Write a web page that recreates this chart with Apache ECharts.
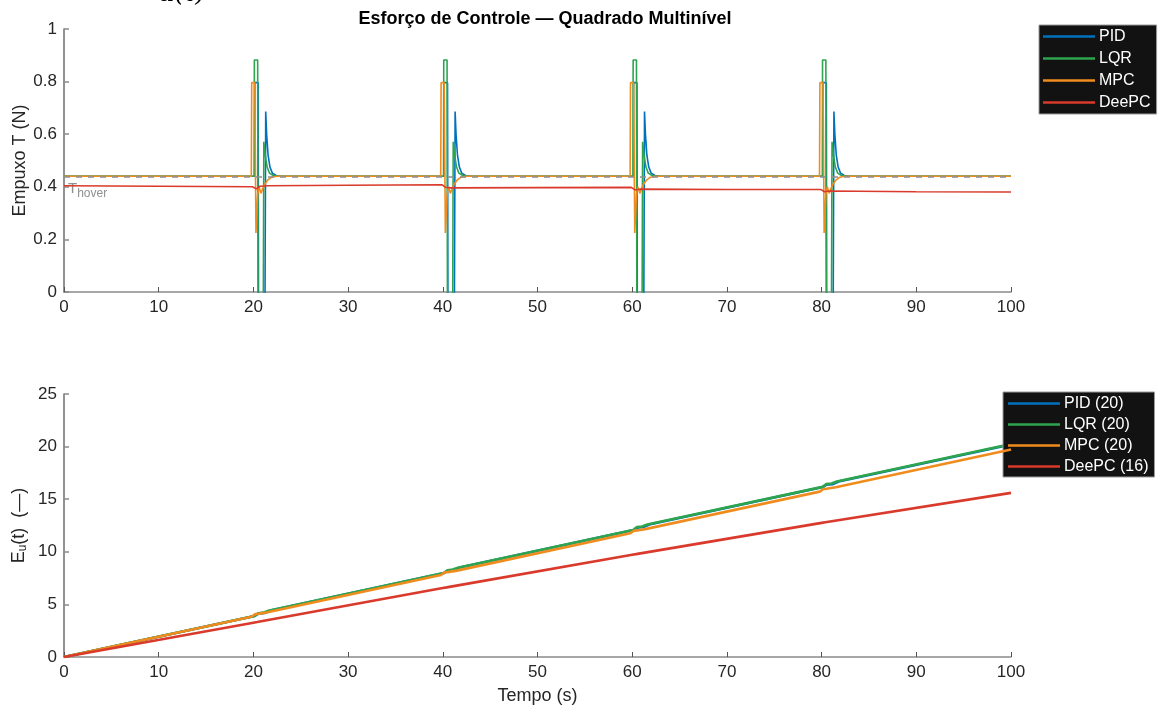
<!DOCTYPE html>
<html>
<head>
<meta charset="utf-8">
<script src="https://cdn.jsdelivr.net/npm/echarts@6/dist/echarts.min.js"></script>
<style>
  html, body { margin: 0; padding: 0; background: #fff; }
  #chart { width: 1161px; height: 707px; }
</style>
</head>
<body>
<div id="chart"></div>
<script>
// Thrust commands T(t) [N] for each controller, as [time, value] pairs
const thrustPID = [
  [0, 0.44], [20.13, 0.44], [20.15, 0.796], [20.5, 0.796], [20.55, -0.3], [21.2, -0.3], [21.3, 0.686], [21.4, 0.6], [21.55, 0.52], [21.75, 0.475], [22.0, 0.452], [22.4, 0.443], [23, 0.44],
  [40.13, 0.44], [40.15, 0.796], [40.5, 0.796], [40.55, -0.3], [41.2, -0.3], [41.3, 0.686], [41.4, 0.6], [41.55, 0.52], [41.75, 0.475], [42.0, 0.452], [42.4, 0.443], [43, 0.44],
  [60.13, 0.44], [60.15, 0.796], [60.5, 0.796], [60.55, -0.3], [61.2, -0.3], [61.3, 0.686], [61.4, 0.6], [61.55, 0.52], [61.75, 0.475], [62.0, 0.452], [62.4, 0.443], [63, 0.44],
  [80.13, 0.44], [80.15, 0.796], [80.5, 0.796], [80.55, -0.3], [81.2, -0.3], [81.3, 0.686], [81.4, 0.6], [81.55, 0.52], [81.75, 0.475], [82.0, 0.452], [82.4, 0.443], [83, 0.44],
  [100, 0.44]
];
const thrustLQR = [
  [0, 0.44], [20.08, 0.44], [20.1, 0.882], [20.45, 0.882], [20.5, -0.3], [21.02, -0.3], [21.1, 0.571], [21.25, 0.52], [21.45, 0.475], [21.7, 0.452], [22.1, 0.443], [22.6, 0.44],
  [40.08, 0.44], [40.1, 0.882], [40.45, 0.882], [40.5, -0.3], [41.02, -0.3], [41.1, 0.571], [41.25, 0.52], [41.45, 0.475], [41.7, 0.452], [42.1, 0.443], [42.6, 0.44],
  [60.08, 0.44], [60.1, 0.882], [60.45, 0.882], [60.5, -0.3], [61.02, -0.3], [61.1, 0.571], [61.25, 0.52], [61.45, 0.475], [61.7, 0.452], [62.1, 0.443], [62.6, 0.44],
  [80.08, 0.44], [80.1, 0.882], [80.45, 0.882], [80.5, -0.3], [81.02, -0.3], [81.1, 0.571], [81.25, 0.52], [81.45, 0.475], [81.7, 0.452], [82.1, 0.443], [82.6, 0.44],
  [100, 0.44]
];
const thrustMPC = [
  [0, 0.44], [19.78, 0.44], [19.82, 0.796], [20.15, 0.796], [20.27, 0.224], [20.45, 0.37], [20.6, 0.40], [20.8, 0.375], [21.0, 0.395], [21.2, 0.41], [21.5, 0.425], [21.9, 0.436], [22.5, 0.44],
  [39.78, 0.44], [39.82, 0.796], [40.15, 0.796], [40.27, 0.224], [40.45, 0.37], [40.6, 0.40], [40.8, 0.375], [41.0, 0.395], [41.2, 0.41], [41.5, 0.425], [41.9, 0.436], [42.5, 0.44],
  [59.78, 0.44], [59.82, 0.796], [60.15, 0.796], [60.27, 0.224], [60.45, 0.37], [60.6, 0.40], [60.8, 0.375], [61.0, 0.395], [61.2, 0.41], [61.5, 0.425], [61.9, 0.436], [62.5, 0.44],
  [79.78, 0.44], [79.82, 0.796], [80.15, 0.796], [80.27, 0.224], [80.45, 0.37], [80.6, 0.40], [80.8, 0.375], [81.0, 0.395], [81.2, 0.41], [81.5, 0.425], [81.9, 0.436], [82.5, 0.44],
  [100, 0.44]
];
const thrustDeePC = [
  [0, 0.404], [10, 0.402], [19.9, 0.400], [20.3, 0.392], [20.7, 0.402], [21.5, 0.404], [30, 0.406], [39.9, 0.408],
  [40.3, 0.398], [40.8, 0.396], [50, 0.397], [59.9, 0.398], [60.3, 0.388], [60.8, 0.391], [70, 0.390],
  [79.9, 0.390], [80.3, 0.381], [80.8, 0.384], [90, 0.381], [100, 0.380]
];
const thrustHover = 0.44;

// Accumulated control effort E_u(t)
const effortPID = [
  [0, 0], [20.15, 3.90], [20.5, 4.12], [21.2, 4.18], [21.8, 4.43],
  [40.15, 7.98], [40.5, 8.20], [41.2, 8.26], [41.8, 8.51],
  [60.15, 12.07], [60.5, 12.29], [61.2, 12.35], [61.8, 12.59],
  [80.15, 16.15], [80.5, 16.37], [81.2, 16.43], [81.8, 16.68],
  [100, 20.20]
];
const effortLQR = [
  [0, 0], [20.1, 3.89], [20.5, 4.16], [21.05, 4.22], [21.6, 4.40],
  [40.1, 7.98], [40.5, 8.25], [41.05, 8.31], [41.6, 8.49],
  [60.1, 12.08], [60.5, 12.35], [61.05, 12.41], [61.6, 12.59],
  [80.1, 16.17], [80.5, 16.44], [81.05, 16.50], [81.6, 16.68],
  [100, 20.24]
];
const effortMPC = [
  [0, 0], [19.8, 3.83], [20.2, 4.08], [20.5, 4.10], [21.5, 4.25],
  [39.8, 7.80], [40.2, 8.05], [40.5, 8.07], [41.5, 8.21],
  [59.8, 11.76], [60.2, 12.01], [60.5, 12.03], [61.5, 12.18],
  [79.8, 15.72], [80.2, 15.97], [80.5, 15.99], [81.5, 16.14],
  [100, 19.72]
];
const effortDeePC = [
  [0, 0], [20, 3.26], [20.4, 3.32], [40, 6.56], [40.4, 6.62], [60, 9.72], [60.4, 9.78], [80, 12.75], [80.4, 12.81], [100, 15.6]
];

const controllers = ['PID', 'LQR', 'MPC', 'DeePC'];
const effortCounts = [20, 20, 20, 16];
const colors = ['#0072BD', '#2EA44F', '#F08C1E', '#D93A2B'];

const thrustSeries = [thrustPID, thrustLQR, thrustMPC, thrustDeePC];
const effortSeries = [effortPID, effortLQR, effortMPC, effortDeePC];
const effortNames = controllers.map((c, i) => c + ' (' + effortCounts[i] + ')');

const FONT = 'Liberation Sans, Arial, Helvetica, sans-serif';
const TICK_SIZE = 17;
const NAME_SIZE = 18;

const chart = echarts.init(document.getElementById('chart'), null, { renderer: 'canvas' });

function xAxisFor(grid, withName) {
  return {
    type: 'value', gridIndex: grid, min: 0, max: 100, interval: 10,
    axisLine: { show: true, onZero: false, lineStyle: { color: '#8a8a8a', width: 1.5 } },
    axisTick: { show: true, inside: true, length: 5, lineStyle: { color: '#555', width: 1 } },
    splitLine: { show: false },
    axisLabel: { color: '#262626', fontSize: TICK_SIZE, fontFamily: FONT, margin: 7 },
    name: withName ? 'Tempo (s)' : '',
    nameLocation: 'middle', nameGap: 30,
    nameTextStyle: { color: '#262626', fontSize: NAME_SIZE, fontFamily: FONT }
  };
}

const series = [];
thrustSeries.forEach((d, i) => {
  series.push({
    name: controllers[i], type: 'line', xAxisIndex: 0, yAxisIndex: 0,
    data: d, showSymbol: false, symbol: 'none', clip: true,
    lineStyle: { color: colors[i], width: 1.6 }, itemStyle: { color: colors[i] },
    z: 2 + i
  });
});
// Hover thrust reference
series.push({
  name: 'hover', type: 'line', xAxisIndex: 0, yAxisIndex: 0, data: [],
  z: 10,
  markLine: {
    silent: true, symbol: 'none',
    lineStyle: { color: '#8f8f8f', type: [6, 6], width: 1.6 },
    label: {
      show: true, position: 'insideStartBottom', distance: [4, 2],
      formatter: '{t|T}{s|hover}',
      rich: {
        t: { color: '#8f8f8f', fontSize: 15, fontFamily: FONT },
        s: { color: '#8f8f8f', fontSize: 12, fontFamily: FONT, padding: [9, 0, 0, 0] }
      }
    },
    data: [{ yAxis: thrustHover }]
  }
});
effortSeries.forEach((d, i) => {
  series.push({
    name: effortNames[i], type: 'line', xAxisIndex: 1, yAxisIndex: 1,
    data: d, showSymbol: false, symbol: 'none', clip: true,
    lineStyle: { color: colors[i], width: 2.6 }, itemStyle: { color: colors[i] },
    z: 2 + i
  });
});

const legendBase = {
  orient: 'vertical', selectedMode: false,
  backgroundColor: '#121212', borderColor: '#9a9a9a', borderWidth: 1,
  icon: 'rect', itemWidth: 52, itemHeight: 2.5, itemGap: 5,
  textStyle: { color: '#ffffff', fontSize: 16, fontFamily: FONT, lineHeight: 17, padding: [0, 0, 0, -1] },
  borderRadius: 0
};

const option = {
  backgroundColor: '#ffffff',
  animation: false,
  color: colors,
  title: {
    text: 'Esforço de Controle — Quadrado Multinível',
    left: 540, top: 5, textAlign: 'center',
    textStyle: { color: '#000', fontSize: 18, fontWeight: 'bold', fontFamily: FONT }
  },
  legend: [
    Object.assign({}, legendBase, { data: controllers, left: 1039, top: 25, padding: [3, 6, 3, 4] }),
    Object.assign({}, legendBase, { data: effortNames, left: 1003, top: 392, padding: [3, 6, 2, 5], itemGap: 4 })
  ],
  grid: [
    { left: 64, top: 29, width: 947, height: 263, containLabel: false, outerBoundsMode: 'none' },
    { left: 64, top: 394, width: 947, height: 263, containLabel: false, outerBoundsMode: 'none' }
  ],
  xAxis: [xAxisFor(0, false), xAxisFor(1, true)],
  yAxis: [
    {
      type: 'value', gridIndex: 0, min: 0, max: 1, interval: 0.2,
      axisLine: { show: true, lineStyle: { color: '#6e6e6e', width: 1.5 } },
      axisTick: { show: true, inside: true, length: 5, lineStyle: { color: '#8a8a8a', width: 1.5 } },
      splitLine: { show: false },
      axisLabel: { color: '#262626', fontSize: TICK_SIZE, fontFamily: FONT, margin: 7 },
      name: 'Empuxo T (N)', nameLocation: 'middle', nameGap: 35, nameRotate: 90,
      nameMoveOverlap: false,
      nameTextStyle: { color: '#262626', fontSize: NAME_SIZE, fontFamily: FONT }
    },
    {
      type: 'value', gridIndex: 1, min: 0, max: 25, interval: 5,
      axisLine: { show: true, lineStyle: { color: '#6e6e6e', width: 1.5 } },
      axisTick: { show: true, inside: true, length: 5, lineStyle: { color: '#8a8a8a', width: 1.5 } },
      splitLine: { show: false },
      axisLabel: { color: '#262626', fontSize: TICK_SIZE, fontFamily: FONT, margin: 7 },
      name: 'E{u|u}(t)  (—)', nameLocation: 'middle', nameGap: 35, nameRotate: 90,
      nameMoveOverlap: false,
      nameTextStyle: {
        color: '#262626', fontSize: NAME_SIZE, fontFamily: FONT,
        rich: { u: { fontSize: 12, fontFamily: FONT, color: '#262626', padding: [8, 0, 0, 0] } }
      }
    }
  ],
  graphic: [
    {
      type: 'text', left: 158, top: -19, silent: true,
      style: { text: 'u(t)', font: 'italic 26px "DejaVu Serif", serif', fill: '#000' }
    }
  ],
  series: series
};

chart.setOption(option);
</script>
</body>
</html>
